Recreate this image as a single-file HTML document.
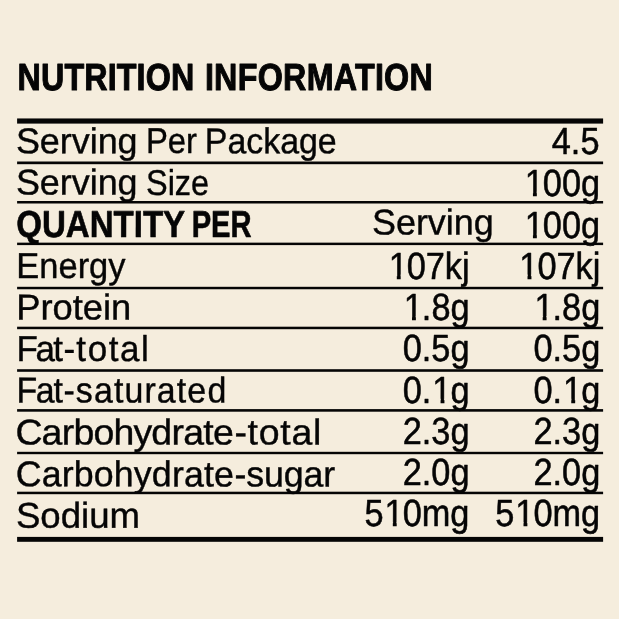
<!DOCTYPE html>
<html lang="en"><head><meta charset="utf-8"><title>Nutrition Information</title>
<style>
html,body{margin:0;padding:0;background:#f5eddd;}
body{width:619px;height:619px;overflow:hidden;position:relative;}
svg{display:block;position:absolute;left:0;top:0;}
text{font-family:"Liberation Sans",Arial,sans-serif;fill:#050505;stroke:#050505;stroke-linejoin:round;text-rendering:geometricPrecision;white-space:pre;}
</style></head><body>
<svg width="619" height="619" viewBox="0 0 619 619" role="img" aria-label="Nutrition information table">
<rect width="619" height="619" fill="#f5eddd"/>
<rect x="17.1" y="118.45" width="586.0" height="5.15" fill="#050505"/>
<rect x="17.1" y="161.5" width="586.0" height="2.7" fill="#050505"/>
<rect x="17.1" y="201.0" width="586.0" height="2.5" fill="#050505"/>
<rect x="17.1" y="242.65" width="586.0" height="2.45" fill="#050505"/>
<rect x="17.1" y="286.8" width="586.0" height="2.45" fill="#050505"/>
<rect x="17.1" y="326.7" width="586.0" height="2.5" fill="#050505"/>
<rect x="17.1" y="369.2" width="586.0" height="2.6" fill="#050505"/>
<rect x="17.1" y="409.1" width="586.0" height="2.6" fill="#050505"/>
<rect x="17.1" y="451.8" width="586.0" height="2.4" fill="#050505"/>
<rect x="17.1" y="491.7" width="586.0" height="2.5" fill="#050505"/>
<rect x="17.1" y="536.9" width="586.0" height="4.9" fill="#050505"/>
<g transform="translate(17.59 89.9) rotate(0.03) scale(0.855 1)"><text x="0.00 27.43 54.85 78.09 105.44 116.07 139.22 149.85 179.39" font-size="37.7" font-weight="bold" stroke-width="1.0">NUTRITION</text></g>
<g transform="translate(204.94 89.9) rotate(0.03) scale(0.855 1)"><text x="0.00 10.73 38.30 61.68 91.38 119.01 150.79 175.54 198.79 209.54 239.24" font-size="37.7" font-weight="bold" stroke-width="1.0">INFORMATION</text></g>
<g transform="translate(15.90 153.25) rotate(0.03) scale(1.0 1)"><text x="0.00 23.94 43.89 55.84 73.78 81.77 101.72" font-size="35.9" font-weight="normal" stroke-width="0.4">Serving</text></g>
<g transform="translate(145.89 153.25) rotate(0.03) scale(0.9137 1)"><text x="0.00 23.94 43.89" font-size="35.9" font-weight="normal" stroke-width="0.4">Per</text></g>
<g transform="translate(204.80 153.25) rotate(0.03) scale(0.9446 1)"><text x="0.00 23.94 43.89 61.85 79.79 99.76 119.71" font-size="35.9" font-weight="normal" stroke-width="0.4">Package</text></g>
<g transform="translate(15.90 194.5) rotate(0.03) scale(1.0 1)"><text x="0.00 23.94 43.89 55.84 73.78 81.77 101.72" font-size="35.9" font-weight="normal" stroke-width="0.4">Serving</text></g>
<g transform="translate(146.05 194.5) rotate(0.03) scale(0.903 1)"><text x="0.00 23.94 31.91 49.84" font-size="35.9" font-weight="normal" stroke-width="0.4">Size</text></g>
<g transform="translate(16.30 236.75) rotate(0.03) scale(0.88 1)"><text x="0.00 29.19 56.31 83.42 110.54 133.47 143.90 166.83" font-size="37.6" font-weight="bold" stroke-width="0.6">QUANTITY</text></g>
<g transform="translate(191.66 236.75) rotate(0.03) scale(0.775 1)"><text x="0.00 25.04 50.08" font-size="37.6" font-weight="bold" stroke-width="0.6">PER</text></g>
<g transform="translate(372.00 234.5) rotate(0.03) scale(1.0 1)"><text x="0.00 23.94 43.89 55.84 73.78 81.77 101.72" font-size="35.9" font-weight="normal" stroke-width="0.4">Serving</text></g>
<g transform="translate(16.36 278.0) rotate(0.03) scale(0.9595 1)"><text x="0.00 23.94 43.89 63.86 75.79 95.76" font-size="35.9" font-weight="normal" stroke-width="0.4">Energy</text></g>
<g transform="translate(16.22 319.5) rotate(0.03) scale(1.0115 1)"><text x="0.00 23.94 35.89 55.84 65.81 85.78 93.75" font-size="35.9" font-weight="normal" stroke-width="0.4">Protein</text></g>
<g transform="translate(16.52 361.0) rotate(0.03) scale(0.9743 1)"><text x="0.00 19.50 37.73 48.16 61.33 72.99 94.63 106.28 127.82" font-size="35.9" font-weight="normal" stroke-width="0.4">Fat-total</text></g>
<g transform="translate(16.60 402.5) rotate(0.03) scale(0.9448 1)"><text x="0.00 20.32 39.13 49.62 62.67 82.03 103.09 114.19 135.33 148.47 169.53 180.63 202.06" font-size="35.9" font-weight="normal" stroke-width="0.4">Fat-saturated</text></g>
<g transform="translate(15.58 444.4) rotate(0.03) scale(1.0428 1)"><text x="0.00 24.95 44.26 55.55 74.68 93.82 112.98 130.15 149.44 160.73 180.08 189.43 209.88 222.36 233.10 253.80 264.52 285.19" font-size="35.9" font-weight="normal" stroke-width="0.4">Carbohydrate-total</text></g>
<g transform="translate(15.66 486.3) rotate(0.03) scale(0.9958 1)"><text x="0.00 26.10 46.21 58.30 78.42 98.56 118.67 136.79 156.88 168.96 189.06 199.16 219.77 231.60 249.42 269.24 289.06 308.90" font-size="35.9" font-weight="normal" stroke-width="0.4">Carbohydrate-sugar</text></g>
<g transform="translate(15.97 527.75) rotate(0.03) scale(1.0195 1)"><text x="0.00 23.94 43.89 63.86 71.83 91.78" font-size="35.9" font-weight="normal" stroke-width="0.4">Sodium</text></g>
<g transform="translate(551.82 153.5) rotate(0.03) scale(0.905 1)"><text x="0.00 21.06 31.59" font-size="37.9" font-weight="normal" stroke-width="0.55">4.5</text></g>
<g transform="translate(524.76 195.5) rotate(0.03) scale(0.905 1)"><text x="0.00 19.96 41.04 62.11" font-size="37.9" font-weight="normal" stroke-width="0.55">100g</text><rect x="1.41" y="-4.11" width="7.64" height="6.88" fill="#f5eddd"/><rect x="13.36" y="-4.11" width="7.15" height="6.88" fill="#f5eddd"/></g>
<g transform="translate(524.76 237.5) rotate(0.03) scale(0.905 1)"><text x="0.00 19.96 41.04 62.11" font-size="37.9" font-weight="normal" stroke-width="0.55">100g</text><rect x="1.41" y="-4.11" width="7.64" height="6.88" fill="#f5eddd"/><rect x="13.36" y="-4.11" width="7.15" height="6.88" fill="#f5eddd"/></g>
<g transform="translate(388.63 278.6) rotate(0.03) scale(0.905 1)"><text x="0.00 19.96 41.04 62.11 81.05" font-size="37.9" font-weight="normal" stroke-width="0.55">107kj</text><rect x="1.41" y="-4.11" width="7.64" height="6.88" fill="#f5eddd"/><rect x="13.36" y="-4.11" width="7.15" height="6.88" fill="#f5eddd"/></g>
<g transform="translate(519.33 278.6) rotate(0.03) scale(0.905 1)"><text x="0.00 19.96 41.04 62.11 81.05" font-size="37.9" font-weight="normal" stroke-width="0.55">107kj</text><rect x="1.41" y="-4.11" width="7.64" height="6.88" fill="#f5eddd"/><rect x="13.36" y="-4.11" width="7.15" height="6.88" fill="#f5eddd"/></g>
<g transform="translate(403.79 320.0) rotate(0.03) scale(0.905 1)"><text x="0.00 19.96 30.49 51.57" font-size="37.9" font-weight="normal" stroke-width="0.55">1.8g</text><rect x="1.41" y="-4.11" width="7.64" height="6.88" fill="#f5eddd"/><rect x="13.36" y="-4.11" width="7.15" height="6.88" fill="#f5eddd"/></g>
<g transform="translate(534.49 320.0) rotate(0.03) scale(0.905 1)"><text x="0.00 19.96 30.49 51.57" font-size="37.9" font-weight="normal" stroke-width="0.55">1.8g</text><rect x="1.41" y="-4.11" width="7.64" height="6.88" fill="#f5eddd"/><rect x="13.36" y="-4.11" width="7.15" height="6.88" fill="#f5eddd"/></g>
<g transform="translate(402.79 361.4) rotate(0.03) scale(0.905 1)"><text x="0.00 21.06 31.59 52.67" font-size="37.9" font-weight="normal" stroke-width="0.55">0.5g</text></g>
<g transform="translate(533.49 361.4) rotate(0.03) scale(0.905 1)"><text x="0.00 21.06 31.59 52.67" font-size="37.9" font-weight="normal" stroke-width="0.55">0.5g</text></g>
<g transform="translate(402.79 402.9) rotate(0.03) scale(0.905 1)"><text x="0.00 21.06 32.70 52.67" font-size="37.9" font-weight="normal" stroke-width="0.55">0.1g</text><rect x="34.11" y="-4.11" width="7.64" height="6.88" fill="#f5eddd"/><rect x="46.05" y="-4.11" width="7.15" height="6.88" fill="#f5eddd"/></g>
<g transform="translate(533.49 402.9) rotate(0.03) scale(0.905 1)"><text x="0.00 21.06 32.70 52.67" font-size="37.9" font-weight="normal" stroke-width="0.55">0.1g</text><rect x="34.11" y="-4.11" width="7.64" height="6.88" fill="#f5eddd"/><rect x="46.05" y="-4.11" width="7.15" height="6.88" fill="#f5eddd"/></g>
<g transform="translate(402.79 443.7) rotate(0.03) scale(0.905 1)"><text x="0.00 21.06 31.59 52.67" font-size="37.9" font-weight="normal" stroke-width="0.55">2.3g</text></g>
<g transform="translate(533.49 443.7) rotate(0.03) scale(0.905 1)"><text x="0.00 21.06 31.59 52.67" font-size="37.9" font-weight="normal" stroke-width="0.55">2.3g</text></g>
<g transform="translate(402.79 485.0) rotate(0.03) scale(0.905 1)"><text x="0.00 21.06 31.59 52.67" font-size="37.9" font-weight="normal" stroke-width="0.55">2.0g</text></g>
<g transform="translate(533.49 485.0) rotate(0.03) scale(0.905 1)"><text x="0.00 21.06 31.59 52.67" font-size="37.9" font-weight="normal" stroke-width="0.55">2.0g</text></g>
<g transform="translate(364.56 526.25) rotate(0.03) scale(0.905 1)"><text x="0.00 22.17 42.14 63.22 94.78" font-size="37.9" font-weight="normal" stroke-width="0.55">510mg</text><rect x="23.58" y="-4.11" width="7.64" height="6.88" fill="#f5eddd"/><rect x="35.52" y="-4.11" width="7.15" height="6.88" fill="#f5eddd"/></g>
<g transform="translate(495.26 526.25) rotate(0.03) scale(0.905 1)"><text x="0.00 22.17 42.14 63.22 94.78" font-size="37.9" font-weight="normal" stroke-width="0.55">510mg</text><rect x="23.58" y="-4.11" width="7.64" height="6.88" fill="#f5eddd"/><rect x="35.52" y="-4.11" width="7.15" height="6.88" fill="#f5eddd"/></g>
</svg></body></html>
